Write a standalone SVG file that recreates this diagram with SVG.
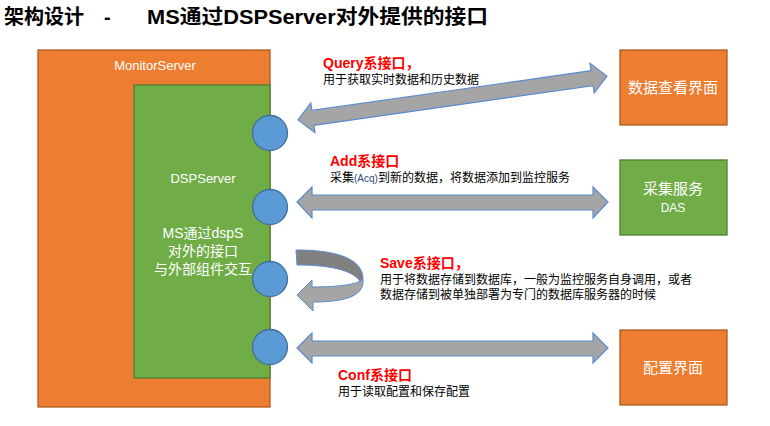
<svg xmlns="http://www.w3.org/2000/svg" width="770" height="426" viewBox="0 0 770 426">
<style>
.cjk{font-family:"Liberation Sans","Noto Sans CJK SC",sans-serif}
.lat{font-family:"Liberation Sans","Noto Sans CJK SC",sans-serif}
.orange{fill:#ED7D31;stroke:#AE5A21;stroke-width:1.3}
.green{fill:#70AD47;stroke:#507E32;stroke-width:1.3}
.port{fill:#5B9BD5;stroke:#41719C;stroke-width:1.3}
.arrow{fill:#A5A5A5;stroke:#5B8BD0;stroke-width:1.2;stroke-linejoin:miter}
.wt{fill:#FFFFFF}
.red{fill:#FF0000;font-weight:bold;font-size:14px}
.desc{fill:#000000;font-size:12px}
</style>
<rect width="770" height="426" fill="#FFFFFF"/>
<text class="cjk" x="4" y="24" font-size="20" font-weight="bold" fill="#000">架构设计<tspan x="104">-</tspan><tspan x="147" textLength="341" lengthAdjust="spacingAndGlyphs">MS通过DSPServer对外提供的接口</tspan></text>

<g id="MonitorServer">
<rect class="orange" x="38" y="50" width="232" height="357"/>
<text class="lat wt" x="155" y="70" font-size="13" text-anchor="middle">MonitorServer</text>
</g>
<g id="DSPServer">
<rect class="green" x="134" y="85" width="136" height="293"/>
<text class="lat wt" x="203" y="183" font-size="13" text-anchor="middle">DSPServer</text>
<text class="cjk wt" font-size="14" text-anchor="middle"><tspan x="203" y="238">MS通过dspS</tspan><tspan x="203" y="256">对外的接口</tspan><tspan x="203" y="274">与外部组件交互</tspan></text>
</g>
<g id="ports">
<circle id="port-query" class="port" cx="270" cy="133" r="17.5"/>
<circle id="port-add" class="port" cx="270" cy="207" r="17.5"/>
<circle id="port-save" class="port" cx="270" cy="279" r="17.5"/>
<circle id="port-conf" class="port" cx="270" cy="347" r="17.5"/>
</g>
<g id="ViewUI">
<rect class="orange" x="620" y="50" width="107" height="75"/>
<text class="cjk wt" x="673" y="93" font-size="15" text-anchor="middle">数据查看界面</text>
</g>
<g id="DAS">
<rect class="green" x="620" y="160" width="107" height="75"/>
<text class="cjk wt" x="673" y="194" font-size="15" text-anchor="middle">采集服务</text>
<text class="lat wt" x="673" y="212" font-size="12" text-anchor="middle">DAS</text>
</g>
<g id="ConfUI">
<rect class="orange" x="620" y="330" width="107" height="75"/>
<text class="cjk wt" x="673" y="373" font-size="15" text-anchor="middle">配置界面</text>
</g>

<g id="connectors">
<path class="arrow" transform="translate(452.5,98) rotate(-8.1)" d="M-156,0 L-141,-15 L-141,-7.5 L141,-7.5 L141,-15 L156,0 L141,15 L141,7.5 L-141,7.5 L-141,15 Z"/>
<path class="arrow" d="M297,202 L312,187 L312,195 L593,195 L593,187 L608,202 L593,218 L593,210 L312,210 L312,218 Z"/>
<path class="arrow" d="M297,348 L312,333 L312,341 L593,341 L593,333 L608,348 L593,363 L593,356 L312,356 L312,363 Z"/>
<g id="save-loop">
<path d="M296,250 C335,250 363,258 363,279 L360,281 C352,270 330,265 297,265 Z" fill="#808080" stroke="#5B8BD0" stroke-width="1"/>
<path d="M360,281 L363,279 C365,296 345,302 313,302 L313,311 L297,295 L312,280 L312,287 C340,287 356,284 360,281 Z" fill="#A5A5A5" stroke="#5B8BD0" stroke-width="1"/>
</g>
</g>

<g id="labels">
<text class="cjk red" x="323" y="68">Query系接口，</text>
<text class="cjk desc" x="323" y="84">用于获取实时数据和历史数据</text>
<text class="cjk red" x="330" y="166">Add系接口</text>
<text class="cjk desc" x="330" y="182">采集<tspan font-size="10" fill="#2F4B7C">(Acq)</tspan>到新的数据，将数据添加到监控服务</text>
<text class="cjk red" x="380" y="268">Save系接口，</text>
<text class="cjk desc" x="380" y="284">用于将数据存储到数据库，一般为监控服务自身调用，或者</text>
<text class="cjk desc" x="380" y="299">数据存储到被单独部署为专门的数据库服务器的时候</text>
<text class="cjk red" x="338" y="380">Conf系接口</text>
<text class="cjk desc" x="338" y="396">用于读取配置和保存配置</text>
</g>
</svg>
